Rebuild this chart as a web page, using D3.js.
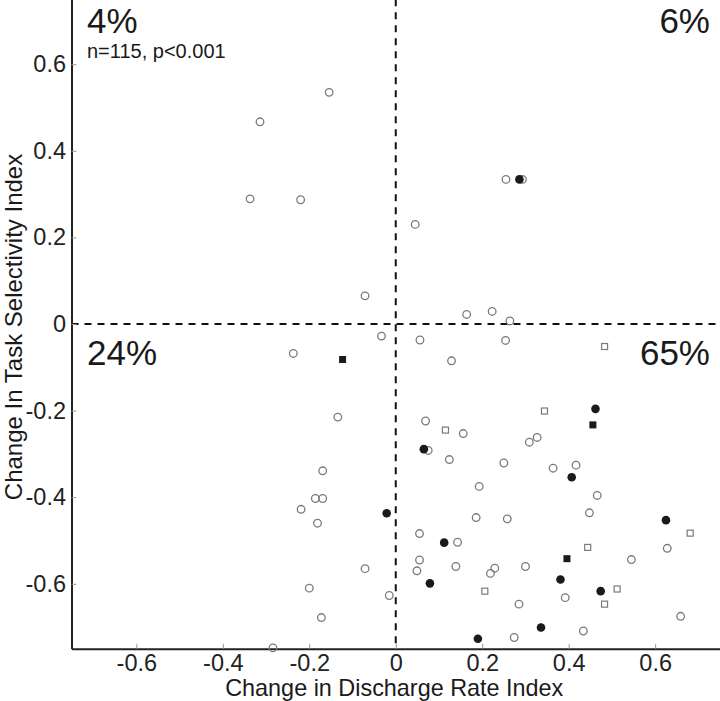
<!DOCTYPE html>
<html>
<head>
<meta charset="utf-8">
<script src="https://cdn.jsdelivr.net/npm/d3@7"></script>
<style>
  html, body { margin: 0; padding: 0; background: #fff; }
  svg { display: block; font-family: "Liberation Sans", Arial, Helvetica, sans-serif; }
</style>
</head>
<body>
<svg id="chart" width="720" height="701"></svg>
<script>
// ---- data (x = change in discharge rate index, y = change in task selectivity index)
const openCircles = [
  [-0.314,0.467],[-0.154,0.535],[-0.337,0.289],[-0.220,0.287],[-0.071,0.065],
  [0.255,0.334],[0.293,0.334],[0.045,0.230],[0.164,0.022],[0.223,0.029],[0.264,0.007],
  [-0.033,-0.028],[0.056,-0.037],[0.254,-0.038],
  [-0.237,-0.068],[-0.134,-0.215],[-0.169,-0.339],[-0.186,-0.403],[-0.169,-0.403],
  [-0.219,-0.428],[-0.181,-0.460],[-0.200,-0.610],[-0.172,-0.678],[-0.284,-0.748],
  [0.129,-0.085],[0.069,-0.224],[0.156,-0.253],[0.327,-0.262],[0.309,-0.273],
  [0.075,-0.292],[0.124,-0.313],[0.250,-0.321],[0.364,-0.333],[0.417,-0.326],
  [0.193,-0.375],[0.466,-0.396],[0.186,-0.447],[0.258,-0.450],[0.448,-0.436],
  [0.055,-0.484],[0.143,-0.504],[0.628,-0.518],[0.545,-0.544],[0.055,-0.545],
  [-0.071,-0.565],[0.049,-0.570],[0.139,-0.560],[0.229,-0.564],[0.219,-0.576],
  [0.300,-0.560],[-0.015,-0.627],[0.392,-0.632],[0.285,-0.647],[0.659,-0.675],
  [0.434,-0.709],[0.274,-0.724]
];
const filledCircles = [
  [0.286,0.334],[0.462,-0.196],[0.065,-0.289],[0.407,-0.354],[-0.021,-0.437],
  [0.625,-0.453],[0.112,-0.505],[0.381,-0.590],[0.079,-0.599],[0.474,-0.617],
  [0.336,-0.701],[0.190,-0.727]
];
const openSquares = [
  [0.483,-0.052],[0.344,-0.201],[0.115,-0.245],[0.681,-0.483],[0.444,-0.516],
  [0.206,-0.617],[0.512,-0.612],[0.483,-0.647]
];
const filledSquares = [
  [-0.123,-0.082],[0.456,-0.233],[0.396,-0.542]
];
const xTicks = [-0.6,-0.4,-0.2,0,0.2,0.4,0.6];
const yTicks = [-0.6,-0.4,-0.2,0,0.2,0.4,0.6];
const quadrantLabels = [
  {text:"4%",  qx:-1, qy: 1},
  {text:"6%",  qx: 1, qy: 1},
  {text:"24%", qx:-1, qy:-1},
  {text:"65%", qx: 1, qy:-1}
];
const statText = "n=115, p<0.001";
const xTitle = "Change in Discharge Rate Index";
const yTitle = "Change In Task Selectivity Index";

// ---- layout
const svg = d3.select("#chart");
const plotLeft = 71.5, plotRight = 720, plotTop = -0.75, plotBottom = 648.75;
const x = d3.scaleLinear().domain([-0.75, 0.75]).range([plotLeft, plotRight]);
const y = d3.scaleLinear().domain([-0.75, 0.75]).range([plotBottom, plotTop]);
const fmt = d => d === 0 ? "0" : String(d);

// dashed zero lines
svg.append("line")
  .attr("x1", x(-0.75)).attr("x2", x(0.75)).attr("y1", y(0)).attr("y2", y(0))
  .attr("stroke", "#111").attr("stroke-width", 2).attr("stroke-dasharray", "7,6");
svg.append("line")
  .attr("x1", x(0)).attr("x2", x(0)).attr("y1", y(0.75)).attr("y2", y(-0.75))
  .attr("stroke", "#111").attr("stroke-width", 2).attr("stroke-dasharray", "7,6");

// axes
const gx = svg.append("g").attr("transform", `translate(0,${y(-0.75)})`)
  .call(d3.axisBottom(x).tickValues(xTicks).tickFormat(fmt).tickSize(-5).tickSizeOuter(0).tickPadding(6));
const gy = svg.append("g").attr("transform", `translate(${x(-0.75)},0)`)
  .call(d3.axisLeft(y).tickValues(yTicks).tickFormat(fmt).tickSize(-5).tickSizeOuter(0).tickPadding(5.5));
[gx, gy].forEach(g => {
  g.select(".domain").attr("stroke", "#222").attr("stroke-width", 2);
  g.selectAll(".tick line").attr("stroke", "#999").attr("stroke-width", 1);
  g.selectAll(".tick text").attr("fill", "#222").style("font-size", "23.5px")
    .style("font-family", "'Liberation Sans', Arial, sans-serif");
});

// markers
const gm = svg.append("g");
gm.selectAll("circle.open").data(openCircles).join("circle").attr("class", "open")
  .attr("cx", d => x(d[0])).attr("cy", d => y(d[1])).attr("r", 3.8)
  .attr("fill", "none").attr("stroke", "#7a7a7a").attr("stroke-width", 1.3);
gm.selectAll("rect.open").data(openSquares).join("rect").attr("class", "open")
  .attr("x", d => x(d[0]) - 3).attr("y", d => y(d[1]) - 3).attr("width", 6).attr("height", 6)
  .attr("fill", "none").attr("stroke", "#7a7a7a").attr("stroke-width", 1.2);
gm.selectAll("circle.filled").data(filledCircles).join("circle").attr("class", "filled")
  .attr("cx", d => x(d[0])).attr("cy", d => y(d[1])).attr("r", 4.3)
  .attr("fill", "#1a1a1a");
gm.selectAll("rect.filled").data(filledSquares).join("rect").attr("class", "filled")
  .attr("x", d => x(d[0]) - 3.5).attr("y", d => y(d[1]) - 3.5).attr("width", 7).attr("height", 7)
  .attr("fill", "#1a1a1a");

// quadrant percentages
svg.selectAll("text.quad").data(quadrantLabels).join("text").attr("class", "quad")
  .attr("x", d => d.qx < 0 ? x(-0.75) + 15.5 : x(0.75) - 10)
  .attr("y", d => d.qy > 0 ? y(0.75) + 33.5 : y(0) + 41)
  .attr("text-anchor", d => d.qx < 0 ? "start" : "end")
  .attr("fill", "#1a1a1a").style("font-size", "35px")
  .text(d => d.text);
svg.append("text")
  .attr("x", x(-0.75) + 15.5).attr("y", y(0.75) + 58.5)
  .attr("fill", "#1a1a1a").style("font-size", "20px")
  .text(statText);

// axis titles
svg.append("text")
  .attr("x", x(0) - 1.5).attr("y", 695.5)
  .attr("text-anchor", "middle").attr("fill", "#1a1a1a").style("font-size", "23.4px")
  .text(xTitle);
svg.append("text")
  .attr("transform", `translate(21.5,${y(0) + 3}) rotate(-90)`)
  .attr("text-anchor", "middle").attr("fill", "#1a1a1a").style("font-size", "24px")
  .text(yTitle);
</script>
</body>
</html>
